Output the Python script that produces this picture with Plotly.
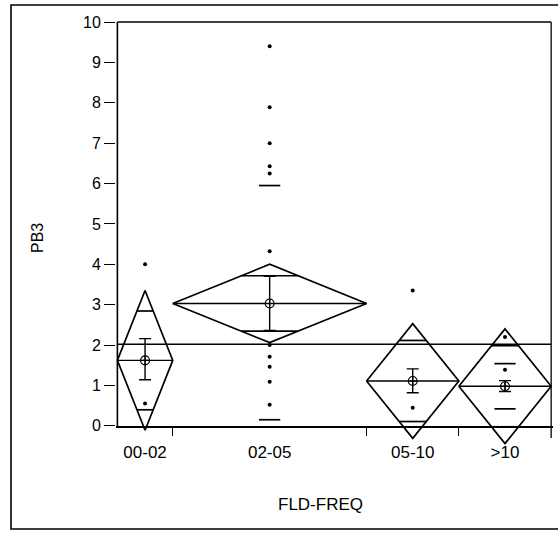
import math
import plotly.graph_objects as go

# ---------------- data ----------------
groups = ["00-02", "02-05", "05-10", ">10"]
counts = [6, 21, 10, 10]                 # group sizes (set diamond widths)
means = [1.62, 3.03, 1.11, 0.98]         # group means
ci_half = [1.73, 0.97, 1.42, 1.42]       # 95% CI half heights (diamonds)
err_low = [1.14, 2.36, 0.82, 0.85]       # mean error bar lower end
err_high = [2.16, 3.70, 1.41, 1.12]      # mean error bar upper end
grand_mean = 2.02
points = {
    "00-02": [4.0, 0.55],
    "02-05": [9.4, 7.89, 7.0, 6.43, 6.25, 4.32, 2.0, 1.71, 1.46, 1.09, 0.52],
    "05-10": [3.35, 0.45],
    ">10": [2.2, 1.39],
}
extra_marks = {
    "02-05": [5.95, 0.15],
    ">10": [1.54, 0.42],
}
y_ticks = list(range(0, 11))

# ---------------- geometry from counts ----------------
bounds = [0]
for c in counts:
    bounds.append(bounds[-1] + c)
total = bounds[-1]
centers = [(bounds[i] + bounds[i + 1]) / 2 for i in range(len(groups))]

BLACK = "black"
FONT = "Liberation Sans, Arial, sans-serif"
fig = go.Figure()


def seg(x, y, w=1.4, dash=None):
    fig.add_trace(go.Scatter(x=x, y=y, mode="lines",
                             line=dict(color=BLACK, width=w, dash=dash),
                             hoverinfo="skip", showlegend=False))


# frame lines (left axis, top, right)
seg([0, 0], [-0.03, 10], 1.6)
seg([0, total], [10, 10], 1.6)
seg([total, total], [-0.3, 10], 1.3)

# grand mean
seg([0, total], [grand_mean, grand_mean], 1.5)

for i, g in enumerate(groups):
    x0, x1, xc = bounds[i], bounds[i + 1], centers[i]
    m, h = means[i], ci_half[i]
    half_w = (x1 - x0) / 2
    # diamond
    seg([x0, xc, x1, xc, x0], [m, m + h, m, m - h, m], 1.7)
    # mean line
    seg([x0, x1], [m, m], 1.4)
    # overlap marks
    d = h / math.sqrt(2)
    ow = half_w * (1 - 1 / math.sqrt(2))
    for yy in (m + d, m - d):
        seg([xc - ow, xc + ow], [yy, yy], 1.7)
    # extra marks
    for yy in extra_marks.get(g, []):
        seg([xc - 1.15, xc + 1.15], [yy, yy], 1.7)
    # points
    pts = points.get(g, [])
    fig.add_trace(go.Scatter(x=[xc] * len(pts), y=pts, mode="markers",
                             marker=dict(color=BLACK, size=4),
                             hoverinfo="skip", showlegend=False))
    # mean with error bar
    fig.add_trace(go.Scatter(
        x=[xc], y=[m], mode="markers",
        marker=dict(symbol="circle-cross-open", size=9, color=BLACK,
                    line=dict(width=1.1, color=BLACK)),
        error_y=dict(type="data", symmetric=False,
                     array=[err_high[i] - m], arrayminus=[m - err_low[i]],
                     color=BLACK, thickness=1.4, width=6),
        hoverinfo="skip", showlegend=False))

L, R, T, B = 116, 5, 20, 87
W, H = 558, 533
pw, ph = W - L - R, H - T - B


def px_x(p):
    return (p - L) / pw


def px_y(p):
    return (H - B - p) / ph


fig.update_layout(
    width=W, height=H,
    margin=dict(l=L, r=R, t=T, b=B, pad=0),
    paper_bgcolor="white", plot_bgcolor="white",
    font=dict(family=FONT, color=BLACK, size=16),
    xaxis=dict(
        range=[-0.15, total + 0.2],
        anchor="free", position=px_y(427),
        showline=True, linecolor=BLACK, linewidth=1.6,
        tickmode="array", tickvals=centers, ticktext=groups,
        ticks="outside", ticklen=10, tickcolor="rgba(0,0,0,0)",
        tickfont=dict(size=17, family=FONT),
        showgrid=False, zeroline=False,
        minor=dict(tickmode="array", tickvals=bounds[1:-1], ticks="outside",
                   ticklen=8, tickwidth=1.3, tickcolor=BLACK, showgrid=False),
    ),
    yaxis=dict(
        range=[-0.5, 10.05],
        tickmode="array", tickvals=y_ticks,
        ticks="outside", ticklen=11, tickwidth=1.3, tickcolor=BLACK,
        tickfont=dict(size=16, family=FONT),
        showline=False, showgrid=False, zeroline=False,
    ),
    annotations=[
        dict(text="PB3", xref="paper", yref="paper", x=px_x(37), y=px_y(238),
             textangle=-90, showarrow=False, font=dict(size=16, family=FONT),
             xanchor="center", yanchor="middle"),
        dict(text="FLD-FREQ", xref="paper", yref="paper", x=px_x(320), y=px_y(504),
             showarrow=False, font=dict(size=17, family=FONT),
             xanchor="center", yanchor="middle"),
    ],
    shapes=[
        dict(type="rect", xref="paper", yref="paper",
             x0=px_x(11), x1=px_x(562), y0=px_y(529), y1=px_y(5),
             line=dict(color=BLACK, width=1.6)),
    ],
)

fig.write_html("out.html")
